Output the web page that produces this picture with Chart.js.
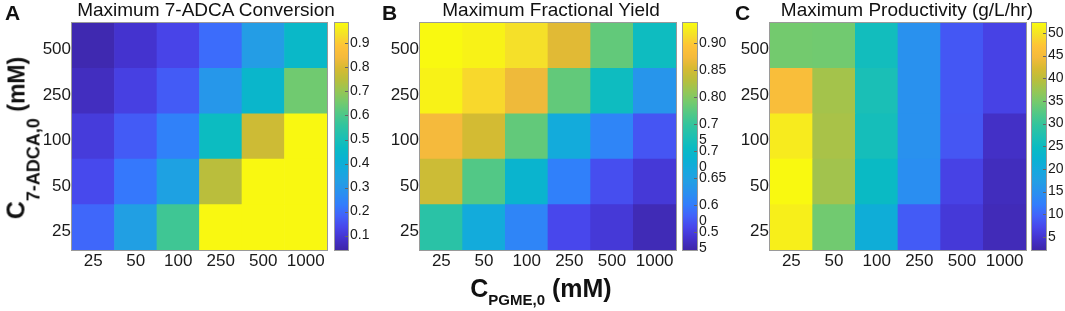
<!DOCTYPE html>
<html><head><meta charset="utf-8">
<script src="https://cdn.jsdelivr.net/npm/chart.js@4/dist/chart.umd.min.js"></script>
<style>
html,body{margin:0;padding:0;background:#fff;width:1065px;height:311px;overflow:hidden;font-family:"Liberation Sans",Arial,sans-serif;color:#111;}
canvas{position:absolute;top:0;}
.t{position:absolute;top:0px;font-size:19px;line-height:19px;white-space:nowrap;transform:translateX(-50%);}
.l{position:absolute;top:2px;font-weight:bold;font-size:21px;line-height:21px;}
.ax{position:absolute;font-weight:bold;white-space:nowrap;line-height:25px;}
</style></head>
<body>
<canvas id="hA" width="330" height="311" style="left:0px"></canvas>
<canvas id="cA" width="52" height="311" style="left:333px"></canvas>
<canvas id="hB" width="300" height="311" style="left:380px"></canvas>
<canvas id="cB" width="50" height="311" style="left:681px"></canvas>
<canvas id="hC" width="295" height="311" style="left:735px"></canvas>
<canvas id="cC" width="35" height="311" style="left:1030px"></canvas>

<div class="l" style="left:5px">A</div>
<div class="l" style="left:382px">B</div>
<div class="l" style="left:735px">C</div>
<div class="t" style="left:206px">Maximum 7-ADCA Conversion</div>
<div class="t" style="left:551px">Maximum Fractional Yield</div>
<div class="t" style="left:907px">Maximum Productivity (g/L/hr)</div>

<div class="ax" id="ytitle" style="left:25px;top:138px;height:43px;transform:translate(-50%,-50%) rotate(-90deg);"><span style="font-size:25px">C</span><span style="font-size:18px;vertical-align:-15px">7-ADCA,0</span><span style="font-size:23px"> (mM)</span></div>
<div class="ax" id="xtitle" style="left:541px;top:276px;transform:translateX(-50%);"><span style="font-size:25px">C</span><span style="font-size:15px;vertical-align:-8px">PGME,0</span><span style="font-size:25px"> (mM)</span></div>

<script>
// ---- data ----
const xCats = ['25', '50', '100', '250', '500', '1000'];   // C_PGME,0 (mM)
const yCats = ['25', '50', '100', '250', '500'];            // C_7-ADCA,0 (mM), bottom -> top

// rows follow yCats (25 at bottom ... 500 at top), columns follow xCats
const conversion = [
  [0.19, 0.33, 0.58, 0.98, 0.98, 0.98],
  [0.14, 0.22, 0.34, 0.75, 0.98, 0.98],
  [0.11, 0.17, 0.24, 0.47, 0.78, 0.98],
  [0.07, 0.12, 0.17, 0.30, 0.44, 0.65],
  [0.05, 0.09, 0.13, 0.20, 0.32, 0.45]
];
const fractionalYield = [
  [0.740, 0.670, 0.610, 0.560, 0.545, 0.525],
  [0.845, 0.770, 0.690, 0.605, 0.565, 0.545],
  [0.875, 0.850, 0.780, 0.670, 0.610, 0.570],
  [0.930, 0.910, 0.870, 0.780, 0.710, 0.630],
  [0.935, 0.930, 0.915, 0.860, 0.780, 0.710]
];
const productivity = [
  [51.0, 34.5, 21.0,  9.0, 5.5, 3.2],
  [52.0, 38.0, 24.5, 14.5, 6.6, 3.5],
  [50.7, 38.5, 26.0, 15.0, 8.5, 4.1],
  [45.7, 38.2, 26.6, 15.0, 8.6, 6.6],
  [34.7, 34.5, 25.6, 15.0, 8.6, 6.6]
];

const conversionRange = [0.04, 0.985];
const yieldRange = [0.517, 0.937];
const productivityRange = [2.1, 52.2];

const conversionTicks = [0.1, 0.2, 0.3, 0.4, 0.5, 0.6, 0.7, 0.8, 0.9];
const conversionTickLabels = ['0.1', '0.2', '0.3', '0.4', '0.5', '0.6', '0.7', '0.8', '0.9'];
const yieldTicks = [0.55, 0.60, 0.65, 0.70, 0.75, 0.80, 0.85, 0.90];
const yieldTickLabels = [['', '0.5', '5'], ['', '0.6', '0'], '0.65', ['', '0.7', '0'], ['', '0.7', '5'], '0.80', '0.85', '0.90'];
const productivityTicks = [5, 10, 15, 20, 25, 30, 35, 40, 45, 50];
const productivityTickLabels = ['5', '10', '15', '20', '25', '30', '35', '40', '45', '50'];

// parula-like colormap
const parulaStops = [
  [0.00, [62, 38, 168]], [0.05, [68, 50, 205]], [0.10, [72, 70, 235]], [0.15, [66, 98, 250]],
  [0.20, [50, 125, 252]], [0.25, [42, 143, 240]], [0.30, [35, 158, 228]], [0.35, [22, 168, 222]],
  [0.40, [10, 178, 210]], [0.45, [10, 187, 195]], [0.50, [30, 192, 178]], [0.55, [50, 196, 158]],
  [0.60, [80, 200, 135]], [0.65, [115, 202, 110]], [0.70, [150, 198, 85]], [0.75, [185, 190, 60]],
  [0.80, [215, 186, 50]], [0.85, [245, 186, 60]], [0.90, [254, 195, 55]], [0.95, [245, 225, 40]],
  [1.00, [249, 251, 14]]
];
function parula(t) {
  t = Math.max(0, Math.min(1, t));
  for (let i = 1; i < parulaStops.length; i++) {
    const [t1, c1] = parulaStops[i];
    const [t0, c0] = parulaStops[i - 1];
    if (t <= t1) {
      const f = (t - t0) / (t1 - t0);
      const c = c0.map((v, k) => Math.round(v + (c1[k] - v) * f));
      return `rgb(${c[0]},${c[1]},${c[2]})`;
    }
  }
  return 'rgb(249,251,14)';
}

Chart.defaults.font.family = '"Liberation Sans", Arial, sans-serif';
Chart.defaults.color = '#1a1a1a';

const frame = {
  id: 'frame',
  afterDraw(chart, args, opts) {
    const { ctx, chartArea: a } = chart;
    ctx.save();
    ctx.strokeStyle = opts.color || '#999';
    ctx.lineWidth = 1;
    ctx.strokeRect(Math.round(a.left) - 0.5, Math.round(a.top) - 0.5, Math.round(a.right - a.left) + 1, Math.round(a.bottom - a.top) + 1);
    if (opts.innerTicks) {
      const s = chart.scales.y;
      ctx.strokeStyle = '#666';
      s.ticks.forEach(t => {
        const y = Math.round(s.getPixelForValue(t.value)) + 0.5;
        ctx.beginPath();
        ctx.moveTo(a.right - 3, y);
        ctx.lineTo(a.right, y);
        ctx.stroke();
      });
    }
    ctx.restore();
  }
};

function heatmap(id, values, range, yW, rightPad) {
  const [lo, hi] = range;
  return new Chart(document.getElementById(id), {
    type: 'bar',
    data: {
      labels: xCats,
      datasets: values.map((row, r) => ({
        label: yCats[r],
        data: row.map(() => 1),
        backgroundColor: row.map(v => parula((v - lo) / (hi - lo))),
        borderWidth: 0,
        barPercentage: 1,
        categoryPercentage: 1
      }))
    },
    options: {
      animation: false, responsive: false, events: [], devicePixelRatio: 1,
      layout: { padding: { left: 0, right: rightPad, top: 23, bottom: 31 } },
      plugins: { legend: { display: false }, tooltip: { enabled: false }, frame: { color: '#9a9a9a' } },
      scales: {
        x: {
          stacked: true,
          grid: { display: false, drawTicks: false },
          border: { display: false },
          ticks: { font: { size: 17 }, padding: 1, maxRotation: 0, autoSkip: false },
          afterFit(s) { s.height = 30; }
        },
        y: {
          stacked: true, min: 0, max: yCats.length,
          grid: { display: false, drawTicks: false },
          border: { display: false },
          afterBuildTicks(s) { s.ticks = yCats.map((_, i) => ({ value: i + 0.5 })); },
          ticks: { font: { size: 17 }, padding: 1, labelOffset: 4, autoSkip: false,
                   callback: (v) => yCats[Math.floor(v)] },
          afterFit(s) { s.width = yW; }
        }
      }
    },
    plugins: [frame]
  });
}

function colorbar(id, range, tickVals, tickLabels, canvasW, barW) {
  const [lo, hi] = range;
  return new Chart(document.getElementById(id), {
    type: 'bar',
    data: {
      labels: [''],
      datasets: [{
        data: [[lo, hi]],
        backgroundColor: (ctx) => {
          const ch = ctx.chart, a = ch.chartArea;
          if (!a) return '#888';
          const g = ch.ctx.createLinearGradient(0, a.bottom, 0, a.top);
          parulaStops.forEach(([t, c]) => g.addColorStop(t, `rgb(${c[0]},${c[1]},${c[2]})`));
          return g;
        },
        borderWidth: 0, barPercentage: 1, categoryPercentage: 1
      }]
    },
    options: {
      animation: false, responsive: false, events: [], devicePixelRatio: 1,
      layout: { padding: { left: 2, right: 0, top: 23, bottom: 61 } },
      plugins: { legend: { display: false }, tooltip: { enabled: false }, frame: { color: '#9a9a9a', innerTicks: true } },
      scales: {
        x: { display: false },
        y: {
          position: 'right', min: lo, max: hi,
          grid: { display: false, drawTicks: false },
          border: { display: false },
          afterBuildTicks(s) { s.ticks = tickVals.map(v => ({ value: v })); },
          ticks: { font: { size: 14, lineHeight: 1.15 }, padding: 2, autoSkip: false,
                   callback: (v, i) => tickLabels[i] },
          afterFit(s) { s.width = canvasW - 2 - barW; }
        }
      }
    },
    plugins: [frame]
  });
}

heatmap('hA', conversion, conversionRange, 72, 3);
heatmap('hB', fractionalYield, yieldRange, 40, 4);
heatmap('hC', productivity, productivityRange, 35, 4);
colorbar('cA', conversionRange, conversionTicks, conversionTickLabels, 52, 13);
colorbar('cB', yieldRange, yieldTicks, yieldTickLabels, 50, 14);
colorbar('cC', productivityRange, productivityTicks, productivityTickLabels, 35, 14);
</script>
</body></html>
